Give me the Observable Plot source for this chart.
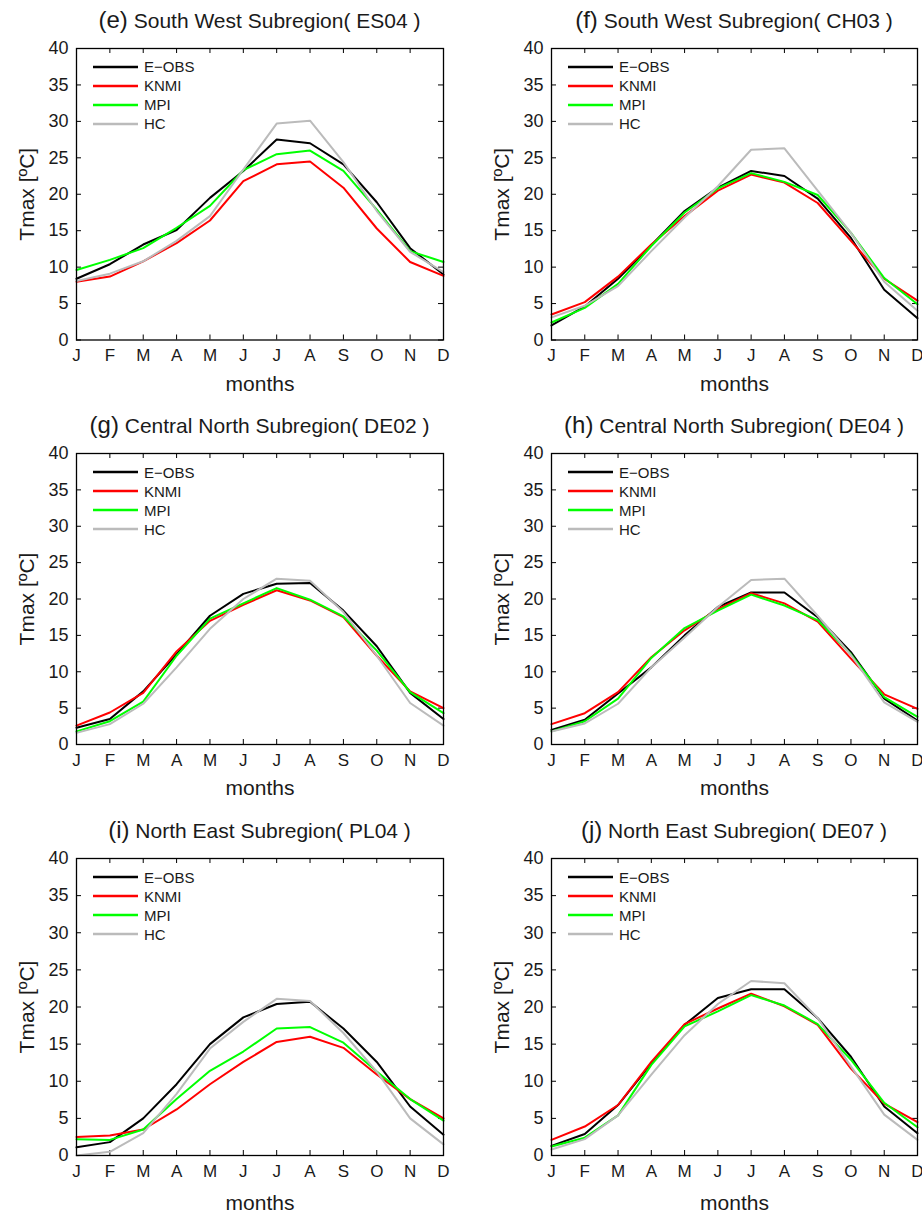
<!DOCTYPE html>
<html><head><meta charset="utf-8">
<script src="https://cdn.jsdelivr.net/npm/d3@7"></script>
<script src="https://cdn.jsdelivr.net/npm/@observablehq/plot@0.6"></script>
<style>
html,body{margin:0;padding:0;background:#fff}
body{width:922px;height:1213px;overflow:hidden;position:relative;font-family:"Liberation Sans",Arial,Helvetica,sans-serif;color:#1a1a1a}
.panel{position:absolute}
.title{position:absolute;text-align:center;font-size:21px;white-space:nowrap;line-height:24px;height:24px}
.title .tag{font-size:24px}
.legend{position:absolute;font-size:15px;line-height:19px}
.legend .row{display:flex;align-items:center;height:19px}
.legend svg{display:block;margin-right:6px}
</style></head><body>
<script>
const months = ["J","F","M","A","M","J","J","A","S","O","N","D"];
const monthIdx = [0,1,2,3,4,5,6,7,8,9,10,11];
const yTicks = [0,5,10,15,20,25,30,35,40];
const seriesNames = ["E−OBS","KNMI","MPI","HC"];
const seriesColors = ["#000000","#ff0000","#00ff00","#bbbbbb"];
const panelTags = ["(e)","(f)","(g)","(h)","(i)","(j)"];
const panelTitles = [
  "South West Subregion( ES04 )",
  "South West Subregion( CH03 )",
  "Central North Subregion( DE02 )",
  "Central North Subregion( DE04 )",
  "North East Subregion( PL04 )",
  "North East Subregion( DE07 )"
];

// (e) ES04
const es04_eobs = [8.4,10.4,13.1,15.1,19.5,23.2,27.5,27.0,24.1,18.9,12.6,9.0];
const es04_knmi = [8.0,8.7,10.8,13.3,16.4,21.8,24.1,24.5,20.9,15.3,10.7,8.8];
const es04_mpi  = [9.6,11.0,12.6,15.4,18.4,23.3,25.5,26.0,23.2,17.9,12.2,10.7];
const es04_hc   = [8.1,9.1,10.8,13.6,17.0,23.4,29.7,30.1,24.4,17.7,12.1,9.3];
// (f) CH03
const ch03_eobs = [2.0,4.6,8.4,13.0,17.7,20.9,23.2,22.5,19.4,14.0,6.9,3.0];
const ch03_knmi = [3.5,5.2,8.7,13.1,17.0,20.5,22.7,21.6,18.8,13.6,8.4,5.4];
const ch03_mpi  = [2.4,4.4,7.7,12.9,17.5,20.8,22.9,21.7,19.9,14.7,8.5,4.9];
const ch03_hc   = [3.1,4.7,7.4,12.2,16.8,21.1,26.1,26.3,20.5,14.7,8.0,4.0];
// (g) DE02
const de02_eobs = [2.3,3.5,7.3,12.4,17.7,20.7,22.1,22.2,18.4,13.5,7.1,3.5];
const de02_knmi = [2.6,4.4,7.1,12.8,17.0,19.2,21.2,19.8,17.5,12.2,7.3,5.0];
const de02_mpi  = [1.8,3.2,5.9,12.2,17.3,19.4,21.5,19.9,17.6,12.9,7.2,4.3];
const de02_hc   = [1.6,2.8,5.6,10.6,15.9,20.0,22.8,22.5,18.2,12.2,5.7,2.6];
// (h) DE04
const de04_eobs = [2.0,3.4,7.0,10.6,15.0,18.9,20.9,20.9,17.5,12.7,6.3,3.3];
const de04_knmi = [2.8,4.3,7.2,12.0,15.7,18.6,20.8,19.4,16.9,11.8,6.9,4.9];
const de04_mpi  = [1.8,3.2,6.3,11.9,16.0,18.4,20.6,19.1,17.1,12.4,6.5,3.8];
const de04_hc   = [1.8,2.9,5.6,10.6,14.7,18.9,22.6,22.8,17.7,12.3,5.8,3.1];
// (i) PL04
const pl04_eobs = [1.1,1.8,5.0,9.6,15.0,18.6,20.4,20.7,17.1,12.6,6.6,2.8];
const pl04_knmi = [2.5,2.7,3.5,6.2,9.6,12.6,15.3,16.0,14.5,10.9,7.6,5.0];
const pl04_mpi  = [2.2,2.1,3.5,7.6,11.4,14.0,17.1,17.3,15.2,11.3,7.6,4.7];
const pl04_hc   = [0.0,0.5,3.0,8.3,14.4,18.0,21.1,20.8,16.5,11.3,5.0,1.5];
// (j) DE07
const de07_eobs = [1.3,2.9,6.8,12.4,17.6,21.2,22.4,22.4,18.5,13.3,6.6,3.0];
const de07_knmi = [2.1,3.9,6.8,12.6,17.7,19.8,21.8,20.1,17.6,11.7,7.0,4.5];
const de07_mpi  = [1.2,2.4,5.4,12.2,17.4,19.4,21.6,20.2,17.7,12.9,7.1,3.8];
const de07_hc   = [0.8,2.2,5.4,10.9,16.2,20.4,23.5,23.2,18.5,12.0,5.5,2.1];

const panelSeries = [
  [es04_eobs, es04_knmi, es04_mpi, es04_hc],
  [ch03_eobs, ch03_knmi, ch03_mpi, ch03_hc],
  [de02_eobs, de02_knmi, de02_mpi, de02_hc],
  [de04_eobs, de04_knmi, de04_mpi, de04_hc],
  [pl04_eobs, pl04_knmi, pl04_mpi, pl04_hc],
  [de07_eobs, de07_knmi, de07_mpi, de07_hc]
];

// layout (pixel frame positions)
const cols = [{svgLeft: 0, left: 76, right: 443}, {svgLeft: 461, left: 551, right: 917}];
const rows = [{top: 47.5, bottom: 339}, {top: 453, bottom: 744}, {top: 858, bottom: 1155}];
const svgW = 461, mTop = 48, tickLen = 5;

panelSeries.forEach((series, p) => {
  const col = cols[p % 2], row = rows[Math.floor(p / 2)];
  const svgTop = row.top - mTop;
  const frameH = row.bottom - row.top;
  const frameW = col.right - col.left;
  const svgH = Math.min(400, 1213 - svgTop);
  const mBottom = svgH - mTop - frameH;

  const marks = [
    Plot.axisX(monthIdx, {anchor: "bottom", tickSize: 0, tickPadding: 9, tickFormat: (i) => months[i], fontSize: 17, label: null}),
    Plot.axisY(yTicks, {anchor: "left", tickSize: 0, tickPadding: 8, fontSize: 18, label: null}),
    // inward tick marks on all four sides
    Plot.ruleX(monthIdx, {x: (d) => d, insetTop: frameH - tickLen, stroke: "#000", strokeWidth: 1}),
    Plot.ruleX(monthIdx, {x: (d) => d, insetBottom: frameH - tickLen, stroke: "#000", strokeWidth: 1}),
    Plot.ruleY(yTicks, {y: (d) => d, insetRight: frameW - tickLen, stroke: "#000", strokeWidth: 1}),
    Plot.ruleY(yTicks, {y: (d) => d, insetLeft: frameW - tickLen, stroke: "#000", strokeWidth: 1}),
  ];
  series.forEach((vals, s) => {
    marks.push(Plot.line(vals, {x: (d, i) => monthIdx[i], y: (d) => d, stroke: seriesColors[s], strokeWidth: 2}));
  });
  marks.push(Plot.frame({stroke: "#000", strokeWidth: 1.3}));
  marks.push(Plot.text(["months"], {frameAnchor: "bottom", dy: 44 + (p >= 4 ? 4 : 0), lineAnchor: "middle", textAnchor: "middle", fontSize: 21, fill: "#1a1a1a"}));
  marks.push(Plot.text(["Tmax [ºC]"], {frameAnchor: "left", dx: -49, rotate: -90, lineAnchor: "middle", textAnchor: "middle", fontSize: 21, fill: "#1a1a1a"}));

  const chart = Plot.plot({
    width: svgW, height: svgH,
    marginLeft: col.left - col.svgLeft,
    marginRight: col.svgLeft + svgW - col.right,
    marginTop: mTop, marginBottom: mBottom,
    x: {type: "linear", domain: [0, 11]},
    y: {type: "linear", domain: [0, 40]},
    style: {fontFamily: '"Liberation Sans", Arial, Helvetica, sans-serif', color: "#1a1a1a", background: "transparent", overflow: "visible"},
    marks
  });
  const wrap = document.createElement("div");
  wrap.className = "panel";
  wrap.style.left = col.svgLeft + "px";
  wrap.style.top = svgTop + "px";
  wrap.appendChild(chart);
  document.body.appendChild(wrap);

  // title
  const t = document.createElement("div");
  t.className = "title";
  t.style.left = (col.left - 40) + "px";
  t.style.width = (frameW + 80) + "px";
  t.style.top = (row.top - 28 - 12) + "px";
  t.innerHTML = `<span class="tag">${panelTags[p]}</span> ${panelTitles[p]}`;
  document.body.appendChild(t);

  // legend
  const lg = document.createElement("div");
  lg.className = "legend";
  lg.style.left = (col.left + 17) + "px";
  lg.style.top = (row.top + 19 - 9.5) + "px";
  seriesNames.forEach((name, s) => {
    const r = document.createElement("div");
    r.className = "row";
    r.innerHTML = `<svg width="45" height="6"><line x1="0" x2="45" y1="3" y2="3" stroke="${seriesColors[s]}" stroke-width="2.5"/></svg><span>${name}</span>`;
    lg.appendChild(r);
  });
  document.body.appendChild(lg);
});
</script>
</body></html>
